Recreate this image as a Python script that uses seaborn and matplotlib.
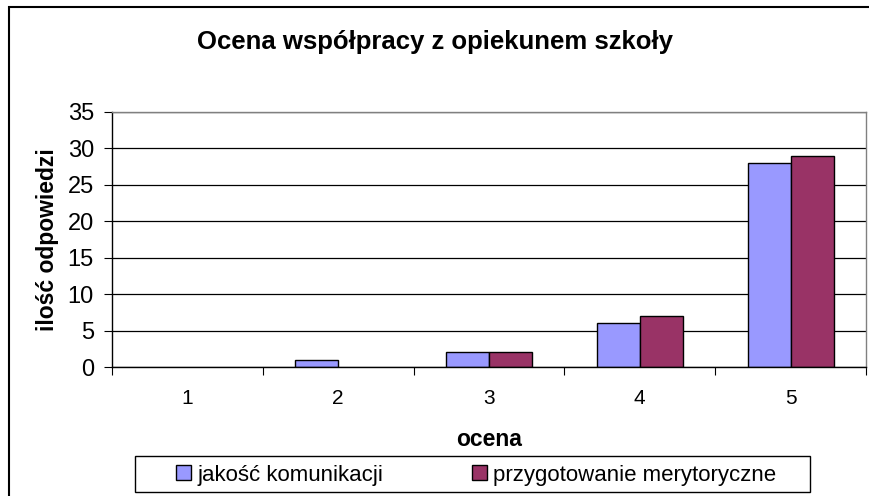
import matplotlib
matplotlib.use("Agg")
import matplotlib.pyplot as plt
import matplotlib.patches as mpatches
import seaborn as sns
import pandas as pd
import numpy as np

categories = ["1", "2", "3", "4", "5"]
series_names = ["jakość komunikacji", "przygotowanie merytoryczne"]
komunikacja = [0, 1, 2, 6, 28]
merytoryczne = [0, 0, 2, 7, 29]
yticks = [0, 5, 10, 15, 20, 25, 30, 35]
colors = ["#9999FF", "#993366"]

df = pd.DataFrame({
    "ocena": categories * 2,
    "value": komunikacja + merytoryczne,
    "seria": [series_names[0]] * len(categories) + [series_names[1]] * len(categories),
})

sns.set_style("white")
plt.rcParams["font.family"] = ["Liberation Sans", "DejaVu Sans"]
plt.rcParams["text.color"] = "black"
plt.rcParams["axes.labelcolor"] = "black"
plt.rcParams["xtick.color"] = "black"
plt.rcParams["ytick.color"] = "black"

fig = plt.figure(figsize=(8.69, 4.96), dpi=100)
ax = fig.add_axes([112/869, 1-367/496, (866-112)/869, (367-112)/496])

sns.barplot(data=df, x="ocena", y="value", hue="seria", order=categories,
            hue_order=series_names, palette=colors, width=0.57,
            edgecolor="black", linewidth=1.0, ax=ax, legend=False, saturation=1)

for p in ax.patches:
    if p.get_height() == 0:
        p.set_visible(False)

ax.set_xlim(-0.5, len(categories) - 0.5)
ax.set_ylim(0, 35)
ax.set_yticks(yticks)
ax.set_yticklabels([str(t) for t in yticks], fontsize=17, color="black")
ax.yaxis.grid(True, color="black", linewidth=0.9)
ax.set_axisbelow(True)
ax.tick_params(axis="y", length=6, width=0.8, color="black", direction="out", pad=7, left=True)

ax.set_xticks(range(len(categories)))
ax.set_xticklabels(categories, fontsize=15, color="black")
ax.tick_params(axis="x", which="major", length=0, pad=16)
ax.set_xticks(np.arange(-0.5, len(categories)), minor=True)
ax.tick_params(axis="x", which="minor", length=6, width=0.8, color="black", direction="out", bottom=True)

for side in ["left", "bottom"]:
    ax.spines[side].set_color("black")
    ax.spines[side].set_linewidth(1.0)
for side in ["top", "right"]:
    ax.spines[side].set_color("#808080")
    ax.spines[side].set_linewidth(1.0)

ax.set_xlabel("ocena", fontsize=16.5, fontweight="bold", labelpad=14, color="black")
ax.set_ylabel("ilość odpowiedzi", fontsize=16.5, fontweight="bold", labelpad=6, color="black")

fig.suptitle("Ocena współpracy z opiekunem szkoły", fontsize=18.5, fontweight="bold",
             x=435/869, y=1-42/496, va="center", color="black")

handles = [mpatches.Patch(facecolor=c, edgecolor="black", linewidth=1.0) for c in colors]
leg = fig.legend(handles, series_names, loc="center", bbox_to_anchor=(476/869, 1-475/496),
                 ncol=2, fontsize=16, frameon=False,
                 handlelength=0.68, handleheight=0.68, handletextpad=0.27, columnspacing=4.0,
                 borderpad=0, borderaxespad=0)

legend_box = mpatches.Rectangle((135/869, 1-492/496), (810-135)/869, (492-456)/496,
                                transform=fig.transFigure, fill=False, edgecolor="black",
                                linewidth=1.0)
fig.add_artist(legend_box)

border = mpatches.Rectangle((9/869, -0.1), 1.2, 1 - 7/496 + 0.1, transform=fig.transFigure,
                            fill=False, edgecolor="black", linewidth=1.5)
fig.add_artist(border)

fig.savefig("out.png", dpi=100)
